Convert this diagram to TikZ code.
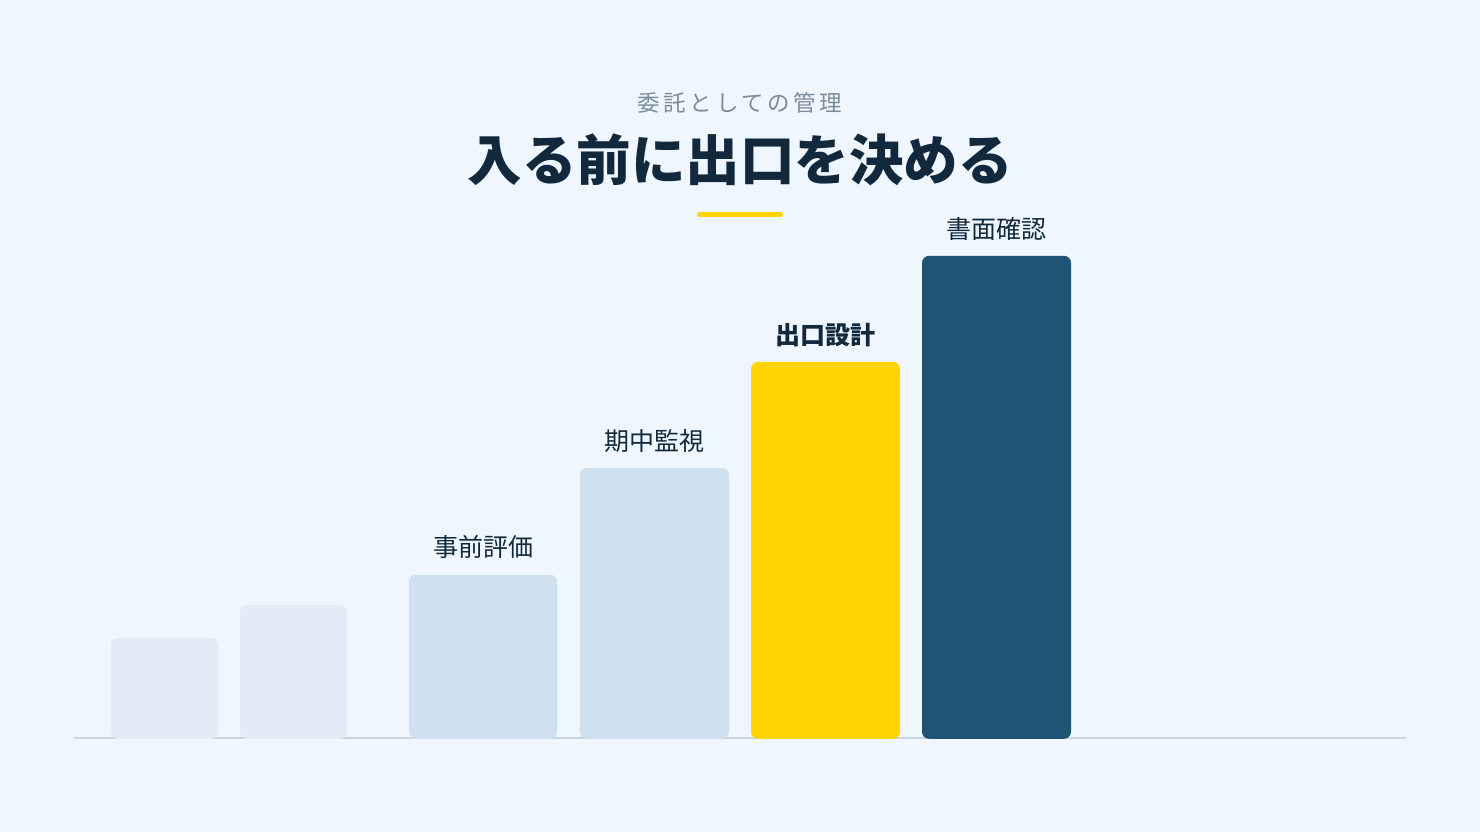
\documentclass[tikz,border=0pt]{standalone}
\usepackage{fontspec}
\setmainfont{Noto Sans CJK JP}
\usetikzlibrary{positioning}
\definecolor{bgblue}{HTML}{EFF6FD}
\definecolor{inkblue}{HTML}{12293D}
\definecolor{subgray}{HTML}{7B8C9B}
\definecolor{axisgray}{HTML}{C8D6E2}
\definecolor{faintbar}{HTML}{E2ECF7}
\definecolor{palebar}{HTML}{CFE0EF}
\definecolor{goldbar}{HTML}{FFD400}
\definecolor{navybar}{HTML}{1F5475}
\tikzset{
  bar/.style={rectangle, rounded corners=7pt, anchor=south, inner sep=0pt},
  barlabel/.style={inner sep=0pt, text=inkblue, font=\fontsize{25}{30}\selectfont},
}
\begin{document}
\begin{tikzpicture}[x=1pt, y=1pt]
  \fill[bgblue] (0,0) rectangle (1480,832);
  % heading
  \node[inner sep=0pt, text=subgray, font=\addfontfeatures{LetterSpace=16}\fontsize{22.5}{26}\selectfont] (subtitle) at (740,729) {委託としての管理};
  \node[inner sep=0pt, text=inkblue, font=\bfseries\fontsize{54.5}{60}\selectfont] (title) at (740,672) {入る前に出口を決める};
  \coordinate (accentL) at (699.5,617);
  \coordinate (accentR) at (780.5,617);
  \draw[goldbar, line width=5pt, line cap=round] (accentL) -- (accentR);
  % axis
  \coordinate (axisL) at (74,94);
  \coordinate (axisR) at (1406,94);
  \draw[axisgray, line width=2.5pt] (axisL) -- (axisR);
  % bars
  \node[bar, fill=faintbar, minimum width=107pt, minimum height=101pt] (b1) at (164.5,93) {};
  \node[bar, fill=faintbar, minimum width=107pt, minimum height=134pt] (b2) at (293.5,93) {};
  \node[bar, fill=palebar, minimum width=148pt, minimum height=164pt] (b3) at (483,93) {};
  \node[bar, fill=palebar, minimum width=149pt, minimum height=271pt] (b4) at (654.5,93) {};
  \node[bar, fill=goldbar, minimum width=149pt, minimum height=377pt] (b5) at (825.5,93) {};
  \node[bar, fill=navybar, minimum width=149pt, minimum height=483pt] (b6) at (996.5,93) {};
  % labels
  \node[barlabel] (l3) at ([yshift=28pt]b3.north) {事前評価};
  \node[barlabel] (l4) at ([yshift=27pt]b4.north) {期中監視};
  \node[barlabel, font=\bfseries\fontsize{25}{30}\selectfont] (l5) at ([yshift=27pt]b5.north) {出口設計};
  \node[barlabel] (l6) at ([yshift=27pt]b6.north) {書面確認};
\end{tikzpicture}
\end{document}
